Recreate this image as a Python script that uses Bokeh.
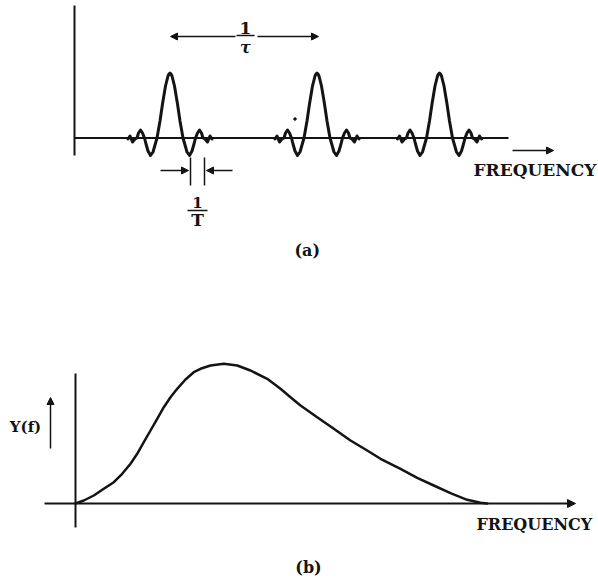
from bokeh.plotting import figure
from bokeh.layouts import column
from bokeh.models import Range1d, Arrow, NormalHead, Label
from bokeh.embed import file_html
from bokeh.resources import INLINE

INK = "#141414"
SERIF = "DejaVu Serif"

# ---------------- data: panel (a) ----------------
# one sinc-like pulse (offset from pulse centre, height above baseline)
pulse_offset = [-42, -40, -37.5, -35, -33, -31.5, -29.5, -27.5, -25.5, -24, -22, -19.5, -17, -15,
                -13, -10, -7.5, -4.5, -2, -1, 0, 1, 2, 4.5, 7.5, 10, 13,
                15, 17, 19.5, 22, 24, 25.5, 27.5, 29.5, 31.5, 33, 35, 37.5, 40, 42]
pulse_height = [-1, 2, -4, -1, 0, 5, 8, 5, 0, -6, -13, -17.5, -14, -7,
                0, 17, 34, 52, 62, 64, 65, 64, 62, 52, 34, 17, 0,
                -7, -14, -17.5, -13, -6, 0, 5, 8, 5, 0, -1, -4, 2, -1]
pulse_centers = [95.5, 242.5, 365]          # spacing 1/tau
baseline_a_end = 434
axis_a_y = [-17.5, 132.5]
tau_arrow_tail = [161, 183]
tau_arrow_head = [96, 244]
tau_arrow_y = 101.5
T_arrow_tail = [86, 158]
T_arrow_head = [114, 132]
T_arrow_y = -32.5
T_ticks_x = [116, 130]
T_ticks_y = [-19.5, -47.5]

# ---------------- data: panel (b) ----------------
spec_f = [0, 8.3, 18.3, 28.3, 38.3, 46.7, 55, 61.7, 68.3, 75, 81.7, 88.3, 95, 101.7, 110,
          118.3, 125, 135, 148.3, 161.7, 175, 191.7, 205, 215, 225, 241.7, 258.3, 275,
          291.7, 305, 325, 341.7, 358.3, 375, 391.7, 405, 411.7]
spec_Y = [0, 3, 8, 14.7, 21.3, 29.7, 39.7, 49.7, 61.3, 73, 84.7, 96.3, 106.3, 114.7, 124,
          131.3, 134.7, 138, 139.7, 138, 133, 124.7, 114.7, 106.3, 98, 86.3, 74.7, 63,
          53, 44.7, 34.7, 25.7, 18, 10.3, 3.7, 0.7, 0]
axis_b_y = [-24, 130]
baseline_b = [-31, 500]
yf_arrow = [55, 106]


def make_fig(xr, yr):
    p = figure(width=598, height=290, x_range=Range1d(*xr), y_range=Range1d(*yr),
               x_axis_type=None, y_axis_type=None, toolbar_location=None,
               output_backend="svg", min_border=0)
    p.outline_line_color = None
    p.background_fill_color = "white"
    p.border_fill_color = "white"
    return p


def arrow(p, x0, y0, x1, y1, size=7, lw=1.5):
    p.add_layout(Arrow(end=NormalHead(size=size, fill_color=INK, line_color=INK, line_width=1),
                       x_start=x0, y_start=y0, x_end=x1, y_end=y1,
                       line_color=INK, line_width=lw))


def label(p, x, y, text, size="16px", align="center", style="bold"):
    p.add_layout(Label(x=x, y=y, text=text, text_font=SERIF, text_font_size=size,
                       text_font_style=style, text_align=align, text_baseline="middle",
                       text_color=INK))


# ---------------- panel (a) ----------------
pa = make_fig((-74, 524), (-152.5, 137.5))
pa.line([0, baseline_a_end], [0, 0], line_color=INK, line_width=2)
pa.line([0, 0], axis_a_y, line_color=INK, line_width=2)
for c in pulse_centers:
    pa.line([c + o for o in pulse_offset], pulse_height, line_color=INK, line_width=3,
            line_join="round", line_cap="round")
pa.scatter([220.5], [19], size=2.5, color=INK)

for t, h in zip(tau_arrow_tail, tau_arrow_head):
    arrow(pa, t, tau_arrow_y, h, tau_arrow_y)
label(pa, 171, 110.5, "1", size="17px")
pa.line([162, 180], [102.5, 102.5], line_color=INK, line_width=1.5)
label(pa, 171, 91, "τ", size="16px", style="bold italic")

for t, h in zip(T_arrow_tail, T_arrow_head):
    arrow(pa, t, T_arrow_y, h, T_arrow_y)
for tx in T_ticks_x:
    pa.line([tx, tx], T_ticks_y, line_color=INK, line_width=1.5)
label(pa, 123, -64.5, "1", size="15px")
pa.line([113, 133], [-72.5, -72.5], line_color=INK, line_width=1.5)
label(pa, 123, -82, "T", size="17px")

arrow(pa, 438, -12.5, 479, -12.5, size=7, lw=1.3)
label(pa, 399, -32.2, "FREQUENCY", size="17px", align="left")
label(pa, 232.7, -112.5, "(a)", size="16px")

# ---------------- panel (b) ----------------
pb = make_fig((-75, 523), (-77, 213))
arrow(pb, baseline_b[0], 0, baseline_b[1], 0, size=8, lw=1.8)
pb.line([0, 0], axis_b_y, line_color=INK, line_width=2)
pb.line(spec_f, spec_Y, line_color=INK, line_width=2.5, line_join="round", line_cap="round")
arrow(pb, -25, yf_arrow[0], -25, yf_arrow[1], size=7, lw=1.5)
label(pb, -50, 76.5, "Y(f)", size="15px")
label(pb, 401, -20.7, "FREQUENCY", size="16px", align="left")
label(pb, 233, -64, "(b)", size="16px")

layout = column(pa, pb)
open("out.html", "w").write(file_html(layout, INLINE))
